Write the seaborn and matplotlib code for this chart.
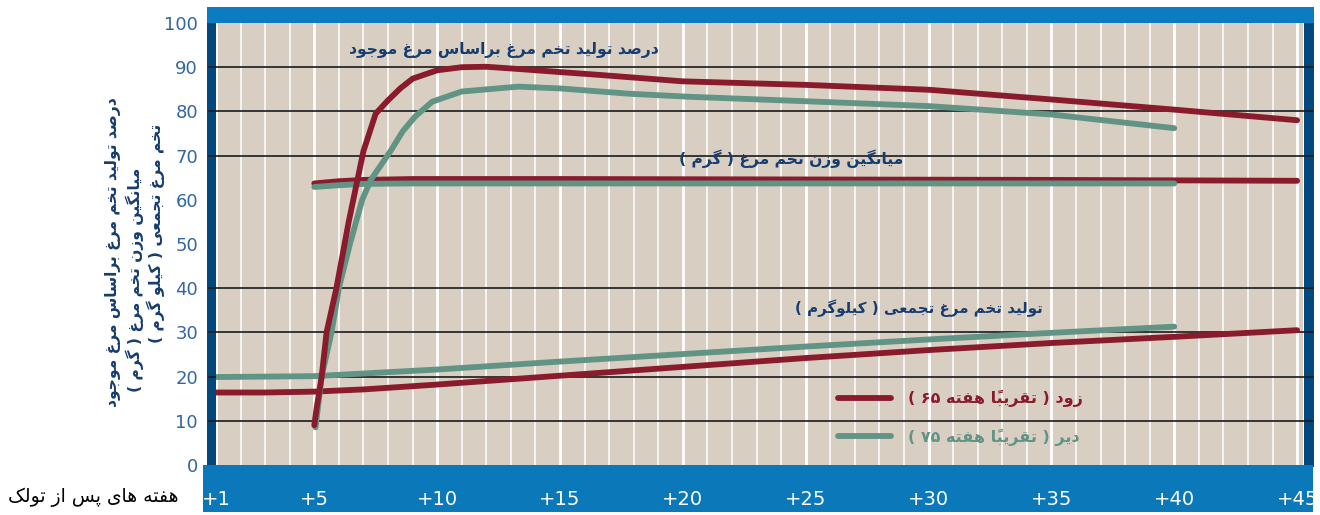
import matplotlib
matplotlib.use('Agg')
import matplotlib.pyplot as plt
import seaborn as sns
from matplotlib.patches import Rectangle

# ---- data ----
weeks_prod_early = [5.0, 5.1, 5.3, 5.5, 5.9, 6.4, 7.0, 7.5, 8.0, 8.5, 9.0, 10, 11, 12, 13.3, 15, 16.5, 20, 25, 30, 35, 40, 45]
prod_early = [9, 13, 20, 30, 40, 55, 71, 79.5, 82.5, 85.2, 87.4, 89.3, 90.0, 90.1, 89.6, 88.9, 88.3, 86.8, 86.0, 84.9, 82.7, 80.4, 78.0]

weeks_prod_late = [5.05, 5.3, 5.7, 6.0, 6.45, 6.95, 7.3, 8.1, 8.6, 9.1, 9.8, 11, 13.3, 15, 17.8, 20.3, 25, 30, 35, 40]
prod_late = [8.5, 20, 30, 40, 50, 60, 64.5, 71, 75.5, 78.8, 82.2, 84.5, 85.6, 85.2, 84.0, 83.3, 82.3, 81.2, 79.3, 76.2]

weeks_weight_early = [5, 6, 7, 9, 15, 25, 35, 45]
weight_early = [63.7, 64.2, 64.5, 64.7, 64.7, 64.6, 64.5, 64.3]
weeks_weight_late = [5, 6, 7, 9, 15, 25, 40]
weight_late = [62.9, 63.3, 63.6, 63.7, 63.7, 63.7, 63.7]

weeks_cum_early = [1, 3, 5, 7, 10, 15, 20, 25, 30, 35, 40, 45]
cum_early = [16.4, 16.4, 16.6, 17.1, 18.2, 20.2, 22.2, 24.2, 26.0, 27.6, 29.0, 30.5]
weeks_cum_late = [1, 5, 10, 15, 20, 25, 30, 35, 40]
cum_late = [19.9, 20.1, 21.6, 23.4, 25.1, 26.8, 28.4, 29.9, 31.3]

x_major = [1, 5, 10, 15, 20, 25, 30, 35, 40, 45]
x_labels = ['+1', '+5', '+10', '+15', '+20', '+25', '+30', '+35', '+40', '+45']
y_ticks = list(range(0, 101, 10))
h_lines = [10, 20, 30, 40, 70, 80, 90]

label_early = 'زود ( تقریبا\u064b هفته \u06f6\u06f5 )'
label_late = 'دیر ( تقریبا\u064b هفته \u06f7\u06f5 )'
title_prod = 'درصد تولید تخم مرغ براساس مرغ موجود'
title_weight = 'میانگین وزن تخم مرغ ( گرم )'
title_cum = 'تولید تخم مرغ تجمعی ( کیلوگرم )'
x_title = 'هفته های پس از تولک'
y_titles = ['درصد تولید تخم مرغ براساس مرغ موجود',
            'میانگین وزن تخم مرغ ( گرم )',
            'تخم مرغ تجمعی ( کیلو گرم )']

RED = '#8a1b2d'
GREEN = '#619484'
NAVY = '#173d70'

# matplotlib does not join arabic letters, so pick the presentation forms
# (isolated, final, initial, medial) and put the text in visual order
FORMS = {
    '\u0627': '\ufe8d\ufe8e', '\u062f': '\ufea9\ufeaa', '\u0631': '\ufead\ufeae',
    '\u0632': '\ufeaf\ufeb0', '\u0648': '\ufeed\ufeee',
    '\u0628': '\ufe8f\ufe90\ufe91\ufe92', '\u062a': '\ufe95\ufe96\ufe97\ufe98',
    '\u062c': '\ufe9d\ufe9e\ufe9f\ufea0', '\u062e': '\ufea5\ufea6\ufea7\ufea8',
    '\u0633': '\ufeb1\ufeb2\ufeb3\ufeb4', '\u0635': '\ufeb9\ufeba\ufebb\ufebc',
    '\u0639': '\ufec9\ufeca\ufecb\ufecc', '\u063a': '\ufecd\ufece\ufecf\ufed0',
    '\u0641': '\ufed1\ufed2\ufed3\ufed4', '\u0642': '\ufed5\ufed6\ufed7\ufed8',
    '\u0644': '\ufedd\ufede\ufedf\ufee0', '\u0645': '\ufee1\ufee2\ufee3\ufee4',
    '\u0646': '\ufee5\ufee6\ufee7\ufee8', '\u0647': '\ufee9\ufeea\ufeeb\ufeec',
    '\u067e': '\ufb56\ufb57\ufb58\ufb59', '\u06a9': '\ufb8e\ufb8f\ufb90\ufb91',
    '\u06af': '\ufb92\ufb93\ufb94\ufb95', '\u06cc': '\ufbfc\ufbfd\ufbfe\ufbff',
}
MARKS = '\u064b'


def fa(text):
    text = text.replace('\u064a', '\u06cc').replace('\u0643', '\u06a9')
    n = len(text)

    def near(i, step):
        j = i + step
        while 0 <= j < n and text[j] in MARKS:
            j += step
        return text[j] if 0 <= j < n else None

    shaped = []
    for i, ch in enumerate(text):
        if ch in FORMS:
            f = FORMS[ch]
            p, q = near(i, -1), near(i, 1)
            jp = p in FORMS and len(FORMS[p]) == 4
            jn = len(f) == 4 and q in FORMS
            if jp and jn:
                ch = f[3]
            elif jn:
                ch = f[2]
            elif jp:
                ch = f[1]
            else:
                ch = f[0]
        shaped.append(ch)

    runs = []
    for ch in shaped:
        if ch in MARKS and runs:
            runs[-1] += ch
        elif ch.isdigit() and runs and runs[-1].isdigit():
            runs[-1] += ch
        else:
            runs.append(ch)
    return ''.join(runs[::-1]).translate(str.maketrans('()', ')('))


sns.set_style('white')
plt.rcParams['font.family'] = ['DejaVu Sans']

W, H = 1320, 515
fig = plt.figure(figsize=(W / 100, H / 100), dpi=100)
ax = fig.add_axes([216 / W, 50 / H, 1087 / W, 442 / H])
ax.set_facecolor('#d8cfc2')

# frame bands around the plot
for (x0, y0, x1, y1, c) in [(207, 7, 1314, 23, '#0a7cbf'), (207, 23, 216, 467, '#03487c'),
                            (1304, 23, 1314, 467, '#03487c'), (203, 465, 1313, 512, '#0a78b9')]:
    fig.add_artist(Rectangle((x0 / W, 1 - y1 / H), (x1 - x0) / W, (y1 - y0) / H,
                             transform=fig.transFigure, color=c, zorder=-1, lw=0))

for v in h_lines:
    ax.axhline(v, xmin=-0.006, xmax=1.009, color='#1a1a1a', lw=1.2, clip_on=False, zorder=1)

lw = 4.2
sns.lineplot(x=weeks_weight_late, y=weight_late, ax=ax, color=GREEN, lw=lw, sort=False, estimator=None, solid_capstyle='round', zorder=3)
sns.lineplot(x=weeks_weight_early, y=weight_early, ax=ax, color=RED, lw=lw, sort=False, estimator=None, solid_capstyle='round', zorder=2.9)
sns.lineplot(x=weeks_cum_early, y=cum_early, ax=ax, color=RED, lw=lw, sort=False, estimator=None, solid_capstyle='round', zorder=3)
sns.lineplot(x=weeks_cum_late, y=cum_late, ax=ax, color=GREEN, lw=lw, sort=False, estimator=None, solid_capstyle='round', zorder=3)
sns.lineplot(x=weeks_prod_late, y=prod_late, ax=ax, color=GREEN, lw=lw, sort=False, estimator=None, solid_capstyle='round', zorder=4,
             label=fa(label_late))
sns.lineplot(x=weeks_prod_early, y=prod_early, ax=ax, color=RED, lw=lw, sort=False, estimator=None, solid_capstyle='round', zorder=4,
             label=fa(label_early))

ax.set_xlim(1, 45.24)
ax.set_ylim(0, 99.5)
for s in ax.spines.values():
    s.set_visible(False)

ax.set_xticks(x_major)
ax.set_xticklabels(x_labels)
ax.set_xticks(range(1, 46), minor=True)
ax.grid(which='major', axis='x', color='white', lw=2.0, zorder=0)
ax.grid(which='minor', axis='x', color='white', lw=1.1, zorder=0)
ax.grid(which='major', axis='y', visible=False)
ax.tick_params(axis='x', which='major', direction='out', length=9, width=1.8, color='white',
               labelcolor='white', labelsize=14, pad=9)
ax.tick_params(axis='x', which='minor', direction='out', length=5, width=1.3, color='white')

ax.set_yticks(y_ticks)
ax.set_yticklabels([str(v) for v in y_ticks])
ax.tick_params(axis='y', length=0, pad=13, labelcolor='#33679f', labelsize=13)

ax.text(12.7, 93.9, fa(title_prod), ha='center', va='center', fontsize=11.2, fontweight='bold', color=NAVY)
ax.text(24.4, 69.4, fa(title_weight), ha='center', va='center', fontsize=11.2, fontweight='bold', color=NAVY)
ax.text(29.6, 35.4, fa(title_cum), ha='center', va='center', fontsize=10.8, fontweight='bold', color=NAVY)

handles, labels = ax.get_legend_handles_labels()
ax.legend(handles[::-1], labels[::-1], loc='upper left', bbox_to_anchor=(838 / W, 1 - 390 / H),
          bbox_transform=fig.transFigure, frameon=False, borderpad=0, borderaxespad=0,
          handlelength=3.3, handletextpad=1.1, labelspacing=1.35, labelcolor='linecolor',
          prop={'size': 11.5, 'weight': 'bold'})

fig.text(8 / W, 1 - 497 / H, fa(x_title), ha='left', va='center', fontsize=13.5, color='black')
for (xc, yc, t) in [(113, 252, y_titles[0]), (135, 280, y_titles[1]), (156, 233, y_titles[2])]:
    fig.text(xc / W, 1 - yc / H, fa(t), rotation=90, ha='center', va='center', fontsize=11.2,
             fontweight='bold', color=NAVY)

fig.savefig('out.png', dpi=100)
